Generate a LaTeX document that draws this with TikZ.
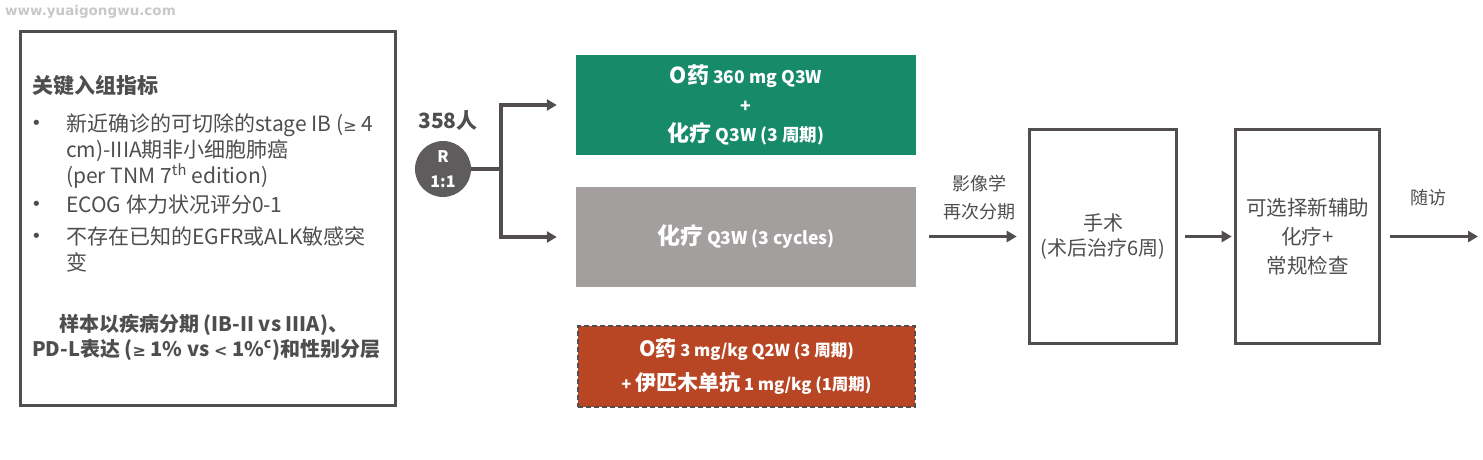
\documentclass[tikz,border=0pt]{standalone}
\usepackage{fontspec}
\setmainfont{Noto Sans CJK SC}
\newfontfamily\wmfont{DejaVu Sans}
\newcommand{\gesym}{{\wmfont\fontsize{16}{16}\selectfont ≥}}
\newcommand{\lesssym}{{\wmfont\fontsize{16}{16}\selectfont <}}
\usetikzlibrary{arrows.meta}
\definecolor{lineg}{HTML}{524E4E}
\definecolor{txtg}{HTML}{4F4D4D}
\definecolor{grn}{HTML}{178A69}
\definecolor{gry}{HTML}{A49F9F}
\definecolor{rdb}{HTML}{B84524}
\definecolor{circ}{HTML}{5E5C5C}
\definecolor{wm}{HTML}{C8C8C8}
\begin{document}
\begin{tikzpicture}[x=1pt,y=-1pt,
  frame/.style={draw=lineg, line width=3.6pt, inner sep=0pt},
  body/.style={text=txtg, inner sep=0pt, anchor=base west, font=\fontsize{21}{26}\selectfont},
  bodyb/.style={body, font=\bfseries\fontsize{20}{26}\selectfont},
  bul/.style={text=txtg, inner sep=0pt, anchor=base west, font=\wmfont\fontsize{18}{18}\selectfont},
  lbl/.style={text=txtg, inner sep=0pt, font=\fontsize{18}{28}\selectfont, align=center},
  trt/.style={inner sep=0pt, text=white, align=center},
  conn/.style={draw=lineg, line width=3.8pt},
  arr/.style={conn, -{Triangle[length=10pt,width=11pt]}},
]
\useasboundingbox (0,0) rectangle (1483,459);

% watermark
\node[anchor=west, inner sep=0pt, text=wm, font=\wmfont\bfseries\fontsize{13.5}{14}\selectfont] (wmark) at (5,12) {www.yuaigongwu.com};

% left criteria box
\node[frame, minimum width=375pt, minimum height=374pt] (crit) at (208,218.5) {};
\node[bodyb, font=\bfseries\fontsize{21}{26}\selectfont] (title) at (32,93) {关键入组指标};
\node[bul] (b1) at (31,129) {•};
\node[body] (l1) at (66,131) {新近确诊的可切除的stage IB (\gesym{} 4};
\node[body] (l2) at (66,157) {cm)-IIIA期非小细胞肺癌};
\node[body] (l3) at (66,183) {(per TNM 7\textsuperscript{th} edition)};
\node[bul] (b2) at (31,210) {•};
\node[body] (l4) at (66,212) {ECOG 体力状况评分0-1};
\node[bul] (b3) at (31,242) {•};
\node[body] (l5) at (66,244) {不存在已知的EGFR或ALK敏感突};
\node[body] (l6) at (66,270) {变};
\node[bodyb] (s1) at (59,331) {样本以疾病分期 (IB-II vs IIIA)、};
\node[bodyb] (s2) at (32,356) {PD-L表达 (\gesym{} 1\% vs \lesssym{} 1\%\textsuperscript{c})和性别分层};

% randomisation
\node[text=txtg, inner sep=0pt, font=\bfseries\fontsize{21}{21}\selectfont] (num) at (448,121) {358人};
\node[circle, fill=circ, minimum size=56pt, inner sep=0pt, text=white, align=center,
      font=\bfseries\fontsize{16}{25}\selectfont] (rand) at (443,169) {R\\1:1};
\coordinate (split) at (501,169);

% arms
\node[fill=grn, minimum width=340pt, minimum height=100pt, trt, font=\bfseries\fontsize{17.5}{29}\selectfont] (arm1) at (746,105)
  {{\fontsize{22}{22}\selectfont O药} 360 mg Q3W\\+\\{\fontsize{22}{22}\selectfont 化疗} Q3W (3 周期)};
\node[fill=gry, minimum width=340pt, minimum height=100pt, trt, font=\bfseries\fontsize{17.5}{29}\selectfont] (arm2) at (746,237)
  {{\fontsize{23}{23}\selectfont 化疗} Q3W (3 cycles)};
\node[fill=rdb, draw=lineg, line width=2pt, dash pattern=on 5pt off 3pt, minimum width=337pt, minimum height=81pt, trt,
      font=\bfseries\fontsize{16.5}{34}\selectfont] (arm3) at (746.5,366)
  {{\fontsize{21}{21}\selectfont O药} 3 mg/kg Q2W (3 周期)\\+ {\fontsize{21}{21}\selectfont 伊匹木单抗} 1 mg/kg (1周期)};

\draw[conn] (rand.east) -- (split);
\draw[arr] (split) |- ([xshift=-19pt]arm1.west);
\draw[arr] (split) |- ([xshift=-19pt]arm2.west);

% surgery and after
\node[frame, minimum width=147pt, minimum height=214pt, text=txtg, align=center,
      font=\fontsize{20}{25}\selectfont] (surg) at (1103,236.5) {手术\\(术后治疗6周)};
\node[frame, minimum width=144pt, minimum height=214pt, text=txtg, align=center,
      font=\fontsize{20.5}{29}\selectfont] (adj) at (1307.5,236.5) {可选择新辅助\\化疗+\\常规检查};
\coordinate (fu) at (1478,236.5);

\draw[arr] ([xshift=13pt]arm2.east |- surg.west) -- ([xshift=-11pt]surg.west);
\node[lbl] (restage) at (979,197.5) {影像学\\再次分期};
\draw[arr] ([xshift=7pt]surg.east) -- ([xshift=-2pt]adj.west);
\draw[arr] ([xshift=9pt]adj.east) -- (fu);
\node[lbl] (follow) at (1428,198) {随访};
\end{tikzpicture}
\end{document}
